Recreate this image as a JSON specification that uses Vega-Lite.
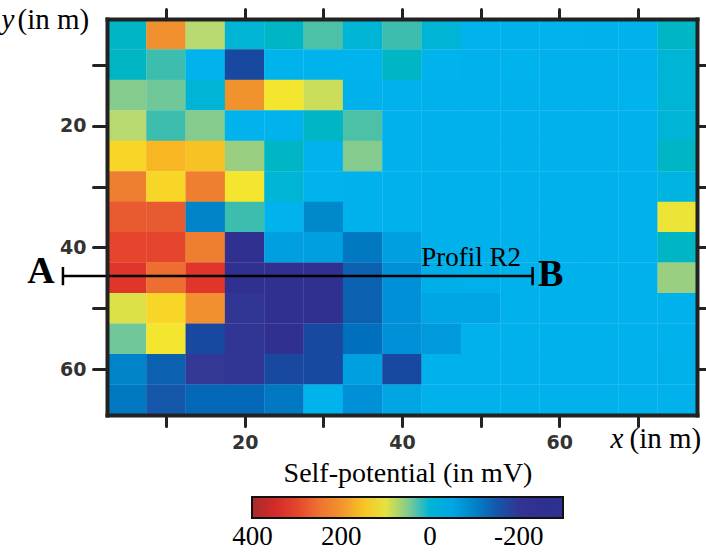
{
  "$schema": "https://vega.github.io/schema/vega-lite/v6.json",
  "width": 590,
  "height": 396,
  "autosize": {"type": "none"},
  "padding": {"left": 107, "top": 19, "right": 9, "bottom": 137},
  "background": "white",
  "config": {"view": {"stroke": null}},
  "datasets": {
    "grid": [
      {"x":5,"y":5,"v":10},{"x":10,"y":5,"v":205},{"x":15,"y":5,"v":75},{"x":20,"y":5,"v":0},{"x":25,"y":5,"v":10},{"x":30,"y":5,"v":30},{"x":35,"y":5,"v":0},{"x":40,"y":5,"v":25},{"x":45,"y":5,"v":0},{"x":50,"y":5,"v":-20},{"x":55,"y":5,"v":-22},{"x":60,"y":5,"v":-20},{"x":65,"y":5,"v":-22},{"x":70,"y":5,"v":-22},{"x":75,"y":5,"v":10},
      {"x":5,"y":10,"v":10},{"x":10,"y":10,"v":25},{"x":15,"y":10,"v":-20},{"x":20,"y":10,"v":-170},{"x":25,"y":10,"v":-20},{"x":30,"y":10,"v":-20},{"x":35,"y":10,"v":-20},{"x":40,"y":10,"v":10},{"x":45,"y":10,"v":-20},{"x":50,"y":10,"v":-25},{"x":55,"y":10,"v":-20},{"x":60,"y":10,"v":-25},{"x":65,"y":10,"v":-25},{"x":70,"y":10,"v":-25},{"x":75,"y":10,"v":0},
      {"x":5,"y":15,"v":50},{"x":10,"y":15,"v":40},{"x":15,"y":15,"v":0},{"x":20,"y":15,"v":200},{"x":25,"y":15,"v":110},{"x":30,"y":15,"v":85},{"x":35,"y":15,"v":-25},{"x":40,"y":15,"v":-25},{"x":45,"y":15,"v":-25},{"x":50,"y":15,"v":-25},{"x":55,"y":15,"v":-25},{"x":60,"y":15,"v":-25},{"x":65,"y":15,"v":-25},{"x":70,"y":15,"v":-20},{"x":75,"y":15,"v":0},
      {"x":5,"y":20,"v":75},{"x":10,"y":20,"v":25},{"x":15,"y":20,"v":50},{"x":20,"y":20,"v":-20},{"x":25,"y":20,"v":-20},{"x":30,"y":20,"v":10},{"x":35,"y":20,"v":30},{"x":40,"y":20,"v":-25},{"x":45,"y":20,"v":-25},{"x":50,"y":20,"v":-25},{"x":55,"y":20,"v":-25},{"x":60,"y":20,"v":-25},{"x":65,"y":20,"v":-25},{"x":70,"y":20,"v":-25},{"x":75,"y":20,"v":0},
      {"x":5,"y":25,"v":135},{"x":10,"y":25,"v":160},{"x":15,"y":25,"v":150},{"x":20,"y":25,"v":60},{"x":25,"y":25,"v":10},{"x":30,"y":25,"v":-20},{"x":35,"y":25,"v":50},{"x":40,"y":25,"v":-25},{"x":45,"y":25,"v":-25},{"x":50,"y":25,"v":-25},{"x":55,"y":25,"v":-25},{"x":60,"y":25,"v":-25},{"x":65,"y":25,"v":-25},{"x":70,"y":25,"v":-25},{"x":75,"y":25,"v":10},
      {"x":5,"y":30,"v":230},{"x":10,"y":30,"v":135},{"x":15,"y":30,"v":230},{"x":20,"y":30,"v":110},{"x":25,"y":30,"v":0},{"x":30,"y":30,"v":-20},{"x":35,"y":30,"v":-25},{"x":40,"y":30,"v":-25},{"x":45,"y":30,"v":-25},{"x":50,"y":30,"v":-25},{"x":55,"y":30,"v":-25},{"x":60,"y":30,"v":-25},{"x":65,"y":30,"v":-25},{"x":70,"y":30,"v":-25},{"x":75,"y":30,"v":-10},
      {"x":5,"y":35,"v":280},{"x":10,"y":35,"v":280},{"x":15,"y":35,"v":-100},{"x":20,"y":35,"v":25},{"x":25,"y":35,"v":-20},{"x":30,"y":35,"v":-95},{"x":35,"y":35,"v":-25},{"x":40,"y":35,"v":-25},{"x":45,"y":35,"v":-25},{"x":50,"y":35,"v":-25},{"x":55,"y":35,"v":-25},{"x":60,"y":35,"v":-25},{"x":65,"y":35,"v":-25},{"x":70,"y":35,"v":-25},{"x":75,"y":35,"v":105},
      {"x":5,"y":40,"v":300},{"x":10,"y":40,"v":300},{"x":15,"y":40,"v":230},{"x":20,"y":40,"v":-210},{"x":25,"y":40,"v":-65},{"x":30,"y":40,"v":-65},{"x":35,"y":40,"v":-110},{"x":40,"y":40,"v":-65},{"x":45,"y":40,"v":-25},{"x":50,"y":40,"v":-25},{"x":55,"y":40,"v":-25},{"x":60,"y":40,"v":-25},{"x":65,"y":40,"v":-25},{"x":70,"y":40,"v":-25},{"x":75,"y":40,"v":10},
      {"x":5,"y":45,"v":320},{"x":10,"y":45,"v":255},{"x":15,"y":45,"v":320},{"x":20,"y":45,"v":-210},{"x":25,"y":45,"v":-210},{"x":30,"y":45,"v":-210},{"x":35,"y":45,"v":-140},{"x":40,"y":45,"v":-80},{"x":45,"y":45,"v":-35},{"x":50,"y":45,"v":-30},{"x":55,"y":45,"v":-25},{"x":60,"y":45,"v":-25},{"x":65,"y":45,"v":-25},{"x":70,"y":45,"v":-25},{"x":75,"y":45,"v":60},
      {"x":5,"y":50,"v":95},{"x":10,"y":50,"v":135},{"x":15,"y":50,"v":205},{"x":20,"y":50,"v":-200},{"x":25,"y":50,"v":-210},{"x":30,"y":50,"v":-210},{"x":35,"y":50,"v":-140},{"x":40,"y":50,"v":-80},{"x":45,"y":50,"v":-50},{"x":50,"y":50,"v":-50},{"x":55,"y":50,"v":-25},{"x":60,"y":50,"v":-25},{"x":65,"y":50,"v":-25},{"x":70,"y":50,"v":-25},{"x":75,"y":50,"v":-25},
      {"x":5,"y":55,"v":40},{"x":10,"y":55,"v":110},{"x":15,"y":55,"v":-170},{"x":20,"y":55,"v":-200},{"x":25,"y":55,"v":-210},{"x":30,"y":55,"v":-170},{"x":35,"y":55,"v":-120},{"x":40,"y":55,"v":-80},{"x":45,"y":55,"v":-72},{"x":50,"y":55,"v":-25},{"x":55,"y":55,"v":-25},{"x":60,"y":55,"v":-25},{"x":65,"y":55,"v":-25},{"x":70,"y":55,"v":-25},{"x":75,"y":55,"v":-25},
      {"x":5,"y":60,"v":-100},{"x":10,"y":60,"v":-140},{"x":15,"y":60,"v":-195},{"x":20,"y":60,"v":-200},{"x":25,"y":60,"v":-170},{"x":30,"y":60,"v":-170},{"x":35,"y":60,"v":-65},{"x":40,"y":60,"v":-170},{"x":45,"y":60,"v":-25},{"x":50,"y":60,"v":-25},{"x":55,"y":60,"v":-25},{"x":60,"y":60,"v":-25},{"x":65,"y":60,"v":-25},{"x":70,"y":60,"v":-25},{"x":75,"y":60,"v":-30},
      {"x":5,"y":65,"v":-110},{"x":10,"y":65,"v":-150},{"x":15,"y":65,"v":-130},{"x":20,"y":65,"v":-130},{"x":25,"y":65,"v":-110},{"x":30,"y":65,"v":-20},{"x":35,"y":65,"v":-80},{"x":40,"y":65,"v":-50},{"x":45,"y":65,"v":-25},{"x":50,"y":65,"v":-25},{"x":55,"y":65,"v":-25},{"x":60,"y":65,"v":-25},{"x":65,"y":65,"v":-25},{"x":70,"y":65,"v":-25},{"x":75,"y":65,"v":-25}
    ],
    "profile": [{"x": -3.1, "x2": 56.6, "y": 44.7}],
    "ends": [{"x": -3.1, "y": 43.2, "y2": 46.2}, {"x": 56.6, "y": 43.2, "y2": 46.2}],
    "name": [{"x": 48.8, "y": 43.05, "t": "Profil R2"}],
    "points": [{"x": -5.9, "y": 45.8, "t": "A"}, {"x": 58.9, "y": 46.3, "t": "B"}]
  },
  "layer": [
    {
      "data": {"name": "grid"},
      "mark": {"type": "rect", "width": 39.6, "height": 30.7},
      "encoding": {
        "x": {
          "field": "x", "type": "quantitative",
          "scale": {"domain": [2.5, 77.5], "nice": false, "zero": false},
          "axis": {
            "orient": "bottom", "values": [10, 20, 30, 40, 50, 60, 70],
            "labelExpr": "datum.value % 20 == 0 ? datum.label : ''",
            "labelFont": "DejaVu Sans", "labelFontWeight": "bold", "labelFontSize": 19, "labelColor": "#333333",
            "labelPadding": 7, "labelFlush": false,
            "tickSize": 11, "tickWidth": 3, "tickColor": "#222222", "tickCap": "round",
            "domain": true, "domainWidth": 4, "domainColor": "#222222", "domainCap": "square",
            "grid": false, "zindex": 1,
            "title": "(in m)", "titleFont": "Liberation Serif", "titleFontSize": 29, "titleFontWeight": "normal", "titleColor": "#000000",
            "titleX": 522, "titleY": 32, "titleAlign": "left", "titleBaseline": "alphabetic"
          }
        },
        "y": {
          "field": "y", "type": "quantitative",
          "scale": {"domain": [2.5, 67.5], "nice": false, "zero": false, "reverse": true},
          "axis": {
            "orient": "left", "values": [10, 20, 30, 40, 50, 60],
            "labelExpr": "datum.value % 20 == 0 ? datum.label : ''",
            "labelFont": "DejaVu Sans", "labelFontWeight": "bold", "labelFontSize": 19, "labelColor": "#333333",
            "labelPadding": 7, "labelFlush": false,
            "tickSize": 14, "tickWidth": 3, "tickColor": "#222222", "tickCap": "round",
            "domain": true, "domainWidth": 4, "domainColor": "#222222", "domainCap": "square",
            "grid": false, "zindex": 1,
            "title": "(in m)", "titleFont": "Liberation Serif", "titleFontSize": 29, "titleFontWeight": "normal", "titleColor": "#000000",
            "titleAngle": 0, "titleX": -90, "titleY": 9, "titleAlign": "left", "titleBaseline": "alphabetic"
          }
        },
        "color": {
          "field": "v", "type": "quantitative",
          "scale": {
            "type": "linear", "zero": false, "nice": false, "interpolate": "rgb",
            "domain": [401, 340, 310, 280, 250, 220, 190, 160, 135, 110, 90, 75, 55, 40, 25, 10, 0, -20, -35, -50, -65, -80, -95, -110, -125, -140, -155, -170, -195, -210, -300],
            "range": ["#a62b2b", "#dc2a2a", "#e23a2a", "#e85a30", "#ee7230", "#f08530", "#f29a2c", "#f7b622", "#f8d628", "#f4e62e", "#d4df50", "#b8d870", "#90cc88", "#70c89a", "#3cbdae", "#00b5c4", "#00b4d6", "#00b3ec", "#00aee8", "#00a6e4", "#00a0e0", "#0090d8", "#0088cc", "#0078c2", "#006cbc", "#0c60b0", "#1a54a8", "#1848a0", "#323894", "#303090", "#2e3190"]
          },
          "legend": {
            "orient": "none", "legendX": 145, "legendY": 441, "direction": "horizontal", "padding": 0,
            "gradientLength": 311, "gradientThickness": 21, "gradientStrokeColor": "#111111", "gradientStrokeWidth": 2,
            "values": [400, 200, 0, -200], "labelExpr": "'' + datum.value",
            "labelFont": "Liberation Serif", "labelFontSize": 27, "labelColor": "#000000", "labelAlign": "center",
            "labelOffset": 6, "labelOverlap": false,
            "title": "Self-potential (in mV)", "titleFont": "Liberation Serif", "titleFontSize": 28, "titleFontWeight": "normal",
            "titleColor": "#000000", "titleAnchor": "middle", "titlePadding": 9, "titleLimit": 500
          }
        }
      }
    },
    {
      "data": {"name": "grid"},
      "mark": {"type": "point", "opacity": 0},
      "encoding": {
        "x": {
          "field": "x", "type": "quantitative",
          "scale": {"domain": [2.5, 77.5], "nice": false, "zero": false},
          "axis": {
            "orient": "top", "values": [10, 20, 30, 40, 50, 60, 70], "labels": false,
            "tickSize": 10, "tickWidth": 3, "tickColor": "#222222", "tickCap": "round",
            "domain": true, "domainWidth": 4, "domainColor": "#222222", "domainCap": "square",
            "grid": false, "zindex": 1,
            "title": "x", "titleFont": "Liberation Serif", "titleFontSize": 29, "titleFontWeight": "normal", "titleFontStyle": "italic", "titleColor": "#000000",
            "titleX": 503, "titleY": 428, "titleAlign": "left", "titleBaseline": "alphabetic"
          }
        },
        "y": {
          "field": "y", "type": "quantitative",
          "scale": {"domain": [2.5, 67.5], "nice": false, "zero": false, "reverse": true},
          "axis": {
            "orient": "right", "values": [10, 20, 30, 40, 50, 60], "labels": false,
            "tickSize": 10, "tickWidth": 3, "tickColor": "#222222", "tickCap": "round",
            "domain": true, "domainWidth": 4, "domainColor": "#222222", "domainCap": "square",
            "grid": false, "zindex": 1,
            "title": "y", "titleFont": "Liberation Serif", "titleFontSize": 29, "titleFontWeight": "normal", "titleFontStyle": "italic", "titleColor": "#000000",
            "titleAngle": 0, "titleX": -696, "titleY": 9, "titleAlign": "left", "titleBaseline": "alphabetic"
          }
        }
      }
    },
    {
      "data": {"name": "profile"},
      "mark": {"type": "rule", "color": "#000000", "strokeWidth": 2.5},
      "encoding": {
        "x": {"field": "x", "type": "quantitative", "axis": null, "scale": {"domain": [2.5, 77.5], "nice": false, "zero": false}},
        "x2": {"field": "x2"},
        "y": {"field": "y", "type": "quantitative", "axis": null, "scale": {"domain": [2.5, 67.5], "nice": false, "zero": false, "reverse": true}}
      }
    },
    {
      "data": {"name": "ends"},
      "mark": {"type": "rule", "color": "#000000", "strokeWidth": 2.5},
      "encoding": {
        "x": {"field": "x", "type": "quantitative", "axis": null, "scale": {"domain": [2.5, 77.5], "nice": false, "zero": false}},
        "y": {"field": "y", "type": "quantitative", "axis": null, "scale": {"domain": [2.5, 67.5], "nice": false, "zero": false, "reverse": true}},
        "y2": {"field": "y2"}
      }
    },
    {
      "data": {"name": "name"},
      "mark": {"type": "text", "font": "Liberation Serif", "fontSize": 27, "color": "#000000", "align": "center", "baseline": "alphabetic"},
      "encoding": {
        "x": {"field": "x", "type": "quantitative", "axis": null, "scale": {"domain": [2.5, 77.5], "nice": false, "zero": false}},
        "y": {"field": "y", "type": "quantitative", "axis": null, "scale": {"domain": [2.5, 67.5], "nice": false, "zero": false, "reverse": true}},
        "text": {"field": "t"}
      }
    },
    {
      "data": {"name": "points"},
      "mark": {"type": "text", "font": "Liberation Serif", "fontSize": 38, "fontWeight": "bold", "color": "#000000", "align": "center", "baseline": "alphabetic"},
      "encoding": {
        "x": {"field": "x", "type": "quantitative", "axis": null, "scale": {"domain": [2.5, 77.5], "nice": false, "zero": false}},
        "y": {"field": "y", "type": "quantitative", "axis": null, "scale": {"domain": [2.5, 67.5], "nice": false, "zero": false, "reverse": true}},
        "text": {"field": "t"}
      }
    }
  ],
  "resolve": {"axis": {"x": "independent", "y": "independent"}}
}
